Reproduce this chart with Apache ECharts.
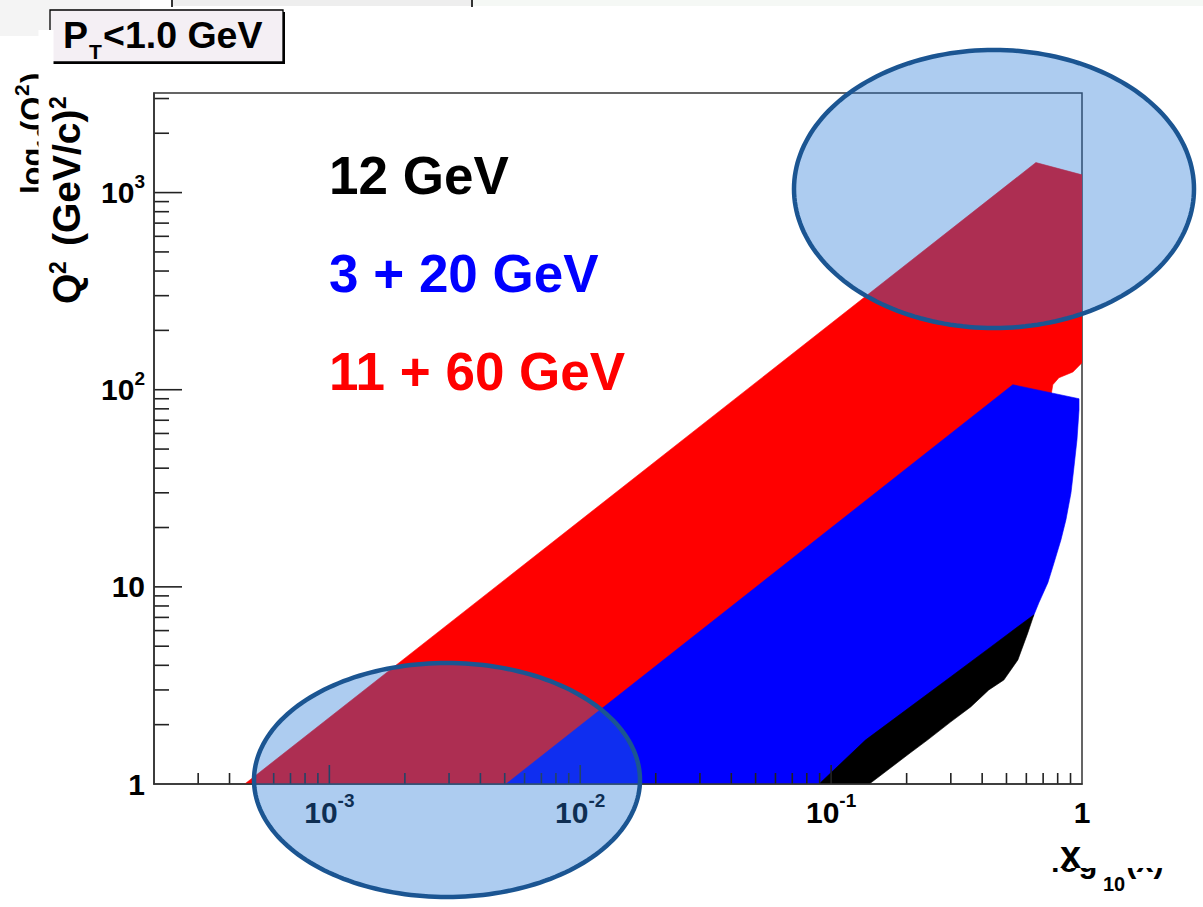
<!DOCTYPE html>
<html>
<head>
<meta charset="utf-8">
<script src="https://cdn.jsdelivr.net/npm/echarts@6/dist/echarts.min.js"></script>
<style>html,body{margin:0;padding:0;background:#fff}#c{width:1203px;height:907px}</style>
</head>
<body>
<div id="c"></div>
<script>
// ---------------- data ----------------
const xRange = [2e-4, 1];
const yRange = [1, 3200];
const xMajorTicks = [1e-3, 1e-2, 1e-1];
const xMinorTicks = [3e-4, 4e-4, 5e-4, 6e-4, 7e-4, 8e-4, 9e-4,
  2e-3, 3e-3, 4e-3, 5e-3, 6e-3, 7e-3, 8e-3, 9e-3,
  0.02, 0.03, 0.04, 0.05, 0.06, 0.07, 0.08, 0.09,
  0.2, 0.3, 0.4, 0.5, 0.6, 0.7, 0.8, 0.9];
const yMajorTicks = [10, 100, 1000];
const yMinorTicks = [2, 3, 4, 5, 6, 7, 8, 9,
  20, 30, 40, 50, 60, 70, 80, 90,
  200, 300, 400, 500, 600, 700, 800, 900,
  2000, 3000];

// boundaries (x, Q^2) of the kinematic regions
const region_11_60 = [[4.6e-4, 1], [0.655, 1420], [1.0, 1230], [1.0, 137], [0.92, 123],
  [0.809, 115], [0.765, 106], [0.751, 92], [0.53, 100], [5.5e-3, 1]];
const region_3_20 = [[5.06e-3, 1], [0.53, 106], [0.973, 90], [0.973, 79], [0.955, 55.7],
  [0.929, 40.6], [0.904, 30], [0.863, 21.9], [0.824, 17.3], [0.773, 13.2], [0.731, 10.5],
  [0.673, 8.3], [0.643, 7.2], [0.5, 4.4], [0.3, 2.8], [0.15, 1.3], [0.11, 1]];
const region_12 = [[0.0895, 1], [0.137, 1.67], [0.299, 3.49], [0.433, 4.96], [0.581, 6.56],
  [0.643, 7.21], [0.608, 5.84], [0.555, 4.26], [0.488, 3.37], [0.425, 3.0], [0.36, 2.46],
  [0.299, 2.06], [0.242, 1.67], [0.207, 1.44], [0.142, 1]];

const seriesLabels = ['12 GeV', '3 + 20 GeV', '11 + 60 GeV'];
const cutLabel = ['P', 'T', '<1.0 GeV'];
const yTitleParts = ['Q', '2', '(GeV/c)', '2'];
const yHiddenParts = ['log', '10', '(Q', '2', ')'];
const xTitle = 'x';
const xHiddenParts = ['log', '10', '(x)'];

// ---------------- styling ----------------
const FONT = '"Liberation Sans", Arial, sans-serif';
const COL_RED = '#ff0000', COL_BLUE = '#0000ff', COL_BLACK = '#000000';
const FRAME = '#333333';

function polySeries(name, pts, color, z) {
  return {
    type: 'custom', name: name, coordinateSystem: 'cartesian2d', data: pts, z: z,
    clip: true, silent: true, encode: { x: 0, y: 1 },
    renderItem: function (params, api) {
      if (params.dataIndex !== 0) return null;
      return {
        type: 'polygon',
        shape: { points: pts.map(function (p) { return api.coord(p); }) },
        style: { fill: color, stroke: color, lineWidth: 0.6 }
      };
    }
  };
}
function xTickSeries(vals, len) {
  return {
    type: 'custom', coordinateSystem: 'cartesian2d', silent: true, z: 6, clip: false,
    data: vals.map(function (v) { return [v, yRange[0]]; }), encode: { x: 0, y: 1 },
    renderItem: function (params, api) {
      const c = api.coord([api.value(0), api.value(1)]);
      return { type: 'line', shape: { x1: c[0], y1: c[1], x2: c[0], y2: c[1] - len },
        style: { stroke: '#222', lineWidth: 1.6 } };
    }
  };
}
function yTickSeries(vals, len) {
  return {
    type: 'custom', coordinateSystem: 'cartesian2d', silent: true, z: 6, clip: false,
    data: vals.map(function (v) { return [xRange[0], v]; }), encode: { x: 0, y: 1 },
    renderItem: function (params, api) {
      const c = api.coord([api.value(0), api.value(1)]);
      return { type: 'line', shape: { x1: c[0], y1: c[1], x2: c[0] + len, y2: c[1] },
        style: { stroke: '#222', lineWidth: 1.6 } };
    }
  };
}
function powLabel(v, plain, digits) {
  const l = Math.log10(v), e = Math.round(l);
  if (Math.abs(l - e) > 1e-6) return '';
  if (e === 0) return '{' + plain + '|1}';
  if (e === 1) return '{' + plain + '|10}';
  return '{' + digits + '|10}{s|' + e + '}';
}
const LFS = 30;
const baseB = { fontFamily: FONT, fontWeight: 'bold', fontSize: LFS, lineHeight: LFS, color: '#000', verticalAlign: 'bottom' };
const supS = { fontFamily: FONT, fontWeight: 'bold', fontSize: 19, lineHeight: 19, color: '#000', verticalAlign: 'bottom', padding: [0, 0, 17, 0] };
const xRich = { p: Object.assign({}, baseB, { padding: [6, 0, 0, 0] }), d: Object.assign({}, baseB), s: supS };
const yRich = { p: Object.assign({}, baseB, { padding: [4, 0, 0, 0] }), d: Object.assign({}, baseB, { padding: [18, 0, 0, 0] }), s: supS };

function ellipsePts(cx, cy, rx, ry) {
  const pts = [];
  for (let i = 0; i < 200; i++) {
    const t = i / 200 * 2 * Math.PI;
    pts.push([cx + rx * Math.cos(t), cy + ry * Math.sin(t)]);
  }
  return pts;
}
function txt(x, y, s, size, color, extra) {
  return Object.assign({
    type: 'text', x: x, y: y, z: 50,
    style: { text: s, fill: color, fontSize: size, fontWeight: 'bold', fontFamily: FONT,
      align: 'left', verticalAlign: 'middle', textAlign: 'left', textVerticalAlign: 'middle' }
  }, extra || {});
}
// rotated (bottom-to-top) text: startY = lower end, midX = x of the text's middle line
function vtxt(midX, startY, s, size, z) {
  return txt(midX, startY, s, size, '#000', { rotation: Math.PI / 2, z: z });
}

const chart = echarts.init(document.getElementById('c'), null, { renderer: 'svg' });
const bigFs = 53;
chart.setOption({
  animation: false,
  backgroundColor: '#ffffff',
  grid: { left: 154, right: 121, top: 93, bottom: 123, show: true, borderColor: FRAME, borderWidth: 1.5, outerBoundsMode: 'none' },
  xAxis: {
    type: 'log', logBase: 10, min: xRange[0], max: xRange[1], z: 10,
    axisLine: { lineStyle: { color: FRAME, width: 1.6 } },
    axisTick: { show: false }, splitLine: { show: false }, minorTick: { show: false },
    axisLabel: { interval: 0, hideOverlap: false, margin: 13, showMinLabel: true, showMaxLabel: true,
      fontSize: LFS, fontWeight: 'bold', fontFamily: FONT, color: '#000',
      formatter: function (v) { return powLabel(v, 'p', 'd'); }, rich: xRich }
  },
  yAxis: {
    type: 'log', logBase: 10, min: yRange[0], max: yRange[1], z: 10,
    axisLine: { lineStyle: { color: FRAME, width: 1.6 } },
    axisTick: { show: false }, splitLine: { show: false }, minorTick: { show: false },
    axisLabel: { interval: 0, hideOverlap: false, margin: 9, showMinLabel: true, showMaxLabel: true,
      fontSize: LFS, fontWeight: 'bold', fontFamily: FONT, color: '#000',
      formatter: function (v) { return powLabel(v, 'p', 'd'); }, rich: yRich }
  },
  series: [
    polySeries(seriesLabels[2], region_11_60, COL_RED, 2),
    polySeries(seriesLabels[1], region_3_20, COL_BLUE, 3),
    polySeries(seriesLabels[0], region_12, COL_BLACK, 4),
    xTickSeries(xMajorTicks, 19), xTickSeries(xMinorTicks, 11),
    yTickSeries(yMajorTicks, 28), yTickSeries(yMinorTicks, 15)
  ],
  graphic: { elements: [
    // remnants at the top of the slide
    { type: 'rect', shape: { x: 0, y: 0, width: 140, height: 36 }, style: { fill: '#f4f4f4' }, z: 1 },
    { type: 'rect', shape: { x: 472, y: 0, width: 731, height: 6 }, style: { fill: '#f5f8f5' }, z: 1 },
    { type: 'rect', shape: { x: 172, y: 0, width: 300, height: 6 }, style: { fill: '#eeeeee' }, z: 1 },
    { type: 'line', shape: { x1: 172, y1: 0, x2: 172, y2: 7 }, style: { stroke: '#333', lineWidth: 2 }, z: 2 },
    { type: 'line', shape: { x1: 472, y1: 0, x2: 472, y2: 7 }, style: { stroke: '#333', lineWidth: 2 }, z: 2 },
    // P_T box
    { type: 'rect', shape: { x: 52, y: 12, width: 233, height: 52 }, style: { fill: '#000' }, z: 20 },
    { type: 'rect', shape: { x: 50, y: 10, width: 233, height: 52 }, style: { fill: '#f4eff4', stroke: '#000', lineWidth: 1.3 }, z: 21 },
    txt(63, 47 - 0.31 * 37.5, cutLabel[0], 37.5, '#000'),
    txt(89, 58 - 0.31 * 21, cutLabel[1], 21, '#000'),
    txt(103, 47 - 0.31 * 37.5, cutLabel[2], 37.5, '#000'),
    // series labels
    txt(329, 192 - 0.31 * bigFs, seriesLabels[0], bigFs, COL_BLACK),
    txt(329, 290 - 0.31 * bigFs, seriesLabels[1], bigFs, COL_BLUE),
    txt(329, 388 - 0.31 * bigFs, seriesLabels[2], bigFs, COL_RED),
    // hidden y title of the underlying plot (mostly covered)
    vtxt(32, 194, yHiddenParts[0], 31, 30),
    vtxt(44, 149, yHiddenParts[1], 20, 30),
    vtxt(32, 131, yHiddenParts[2], 31, 30),
    vtxt(21, 96, yHiddenParts[3], 21, 30),
    vtxt(32, 83, yHiddenParts[4], 31, 30),
    { type: 'rect', shape: { x: 38.5, y: 30, width: 15, height: 180 }, style: { fill: '#fff' }, z: 31 },
    // y title
    vtxt(66, 304, yTitleParts[0], 39, 32),
    vtxt(58, 274, yTitleParts[1], 23, 32),
    vtxt(66, 246, yTitleParts[2], 39, 32),
    vtxt(58, 109, yTitleParts[3], 23, 32),
    // hidden x title of the underlying plot (mostly covered)
    txt(1051, 871 - 0.31 * 31, xHiddenParts[0], 31, '#000', { z: 30 }),
    txt(1103, 890 - 0.31 * 20, xHiddenParts[1], 20, '#000', { z: 30 }),
    txt(1126, 871 - 0.31 * 31, xHiddenParts[2], 31, '#000', { z: 30 }),
    { type: 'rect', shape: { x: 1040, y: 836, width: 140, height: 32 }, style: { fill: '#fff' }, z: 31 },
    txt(1060, 867 - 0.31 * 38, xTitle, 38, '#000', { z: 32 }),
    // highlight ellipses
    { type: 'polygon', shape: { points: ellipsePts(994, 189, 200, 139) }, z: 100,
      style: { fill: 'rgba(40,120,215,0.38)', stroke: '#1b5592', lineWidth: 4.5 } },
    { type: 'polygon', shape: { points: ellipsePts(447, 780, 193, 117) }, z: 100,
      style: { fill: 'rgba(40,120,215,0.38)', stroke: '#1b5592', lineWidth: 4.5 } }
  ] }
});
</script>
</body>
</html>
